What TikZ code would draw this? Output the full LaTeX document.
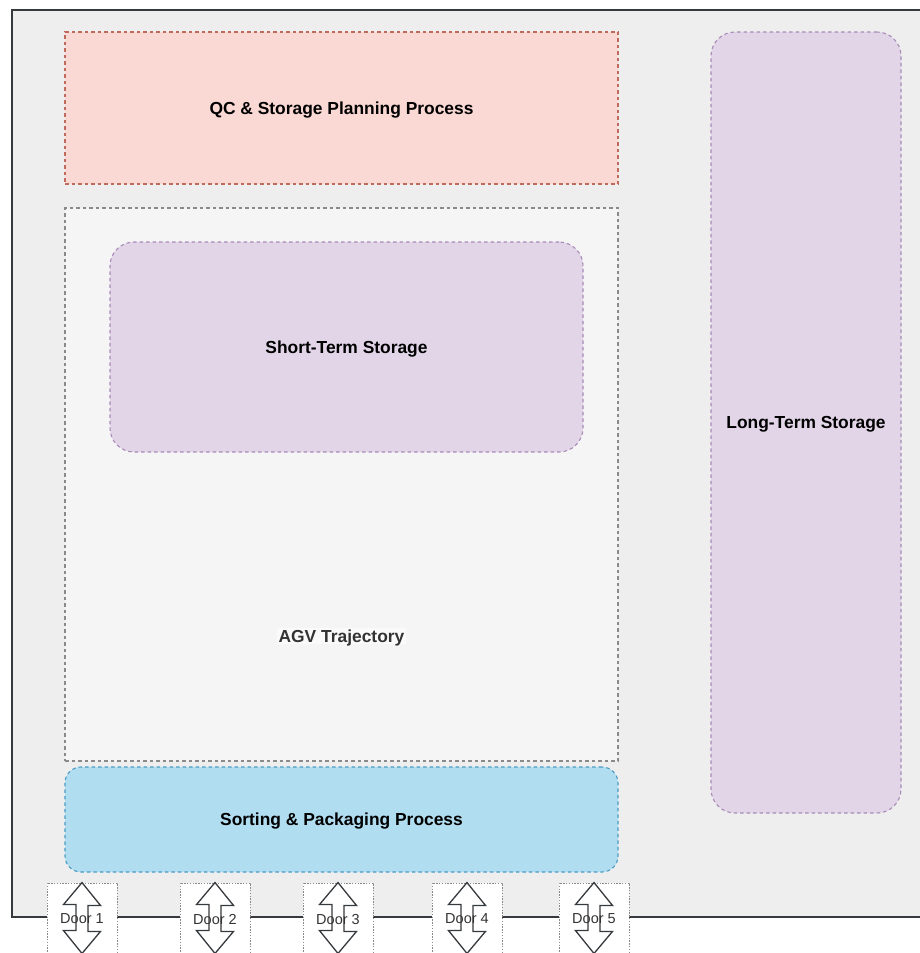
\documentclass[tikz,border=0pt]{standalone}
\usepackage{fontspec}
\setmainfont{Liberation Sans}
\usetikzlibrary{positioning}
\definecolor{hallfill}{HTML}{EEEEEE}
\definecolor{hallline}{HTML}{36393D}
\definecolor{qcfill}{HTML}{FAD9D5}
\definecolor{qcline}{HTML}{C0695D}
\definecolor{agvfill}{HTML}{F5F5F5}
\definecolor{agvline}{HTML}{8A8A8A}
\definecolor{storfill}{HTML}{E1D5E7}
\definecolor{storline}{HTML}{A98BB8}
\definecolor{sortfill}{HTML}{B1DDF0}
\definecolor{sortline}{HTML}{4A9CC4}
\definecolor{doortext}{HTML}{333333}
\tikzset{
  areafont/.style={font=\fontsize{17.4}{20}\selectfont\bfseries},
  area/.style={draw, dash pattern=on 3.5pt off 3pt, line width=1.1pt,
    minimum width=#1, inner sep=0pt, text depth=0pt, areafont},
  sharparea/.style={area=#1},
  roundarea/.style={area=#1, rounded corners=24pt},
  doorbox/.style={draw=agvline, dash pattern=on 1.4pt off 1.4pt, fill=white,
    line width=0.9pt, minimum width=70pt, minimum height=70pt, inner sep=0pt},
  doorarrow/.style={draw=hallline, fill=white, line width=1.3pt, line join=miter},
  doorlabel/.style={text=doortext, font=\fontsize{14.5}{17}\selectfont, inner sep=0pt},
}
\begin{document}
\begin{tikzpicture}[x=1pt, y=-1pt]
  \useasboundingbox (0,0) rectangle (920,953);
  \clip (0,0) rectangle (920,953);
  \fill[white] (0,0) rectangle (920,953);

  % warehouse hall
  \draw[hallline, fill=hallfill, line width=1.5pt] (12,10) rectangle (940,917);

  % process and storage areas
  \node[sharparea=553pt, minimum height=152pt, fill=qcfill, draw=qcline]
    (qc) at (341.5,108) {QC \& Storage Planning Process};
  \node[sharparea=553pt, minimum height=553pt, fill=agvfill, draw=agvline]
    (agv) at (341.5,484.5) {};
  \node[text=doortext, areafont, text depth=0pt,
    fill=white!55!agvfill, inner sep=1.5pt] (agvlabel) at (341.5,636) {AGV Trajectory};
  \node[roundarea=473pt, minimum height=210pt, fill=storfill, draw=storline]
    (short) at (346.5,347) {Short-Term Storage};
  \node[roundarea=190pt, minimum height=781pt, fill=storfill, draw=storline]
    (long) at (806,422.5) {Long-Term Storage};
  \node[roundarea=553pt, minimum height=105pt, fill=sortfill, draw=sortline,
    rounded corners=16pt] (sort) at (341.5,819.5) {Sorting \& Packaging Process};

  % loading doors: dotted frame with a two-way arrow
  \foreach \i/\cx in {1/82, 2/215, 3/338, 4/467, 5/594} {
    \node[doorbox] (door\i) at (\cx,918) {};
    \draw[doorarrow]
      (door\i.north) -- ++(-18.5,22) -- ++(12.5,0) -- ++(0,26)
      -- ++(-12.5,0) -- (door\i.south) -- ++(18.5,-22) -- ++(-12.5,0)
      -- ++(0,-26) -- ++(12.5,0) -- cycle;
    \node[doorlabel] (doorlabel\i) at ([yshift=-1pt]door\i.center) {Door \i};
  }
\end{tikzpicture}
\end{document}
